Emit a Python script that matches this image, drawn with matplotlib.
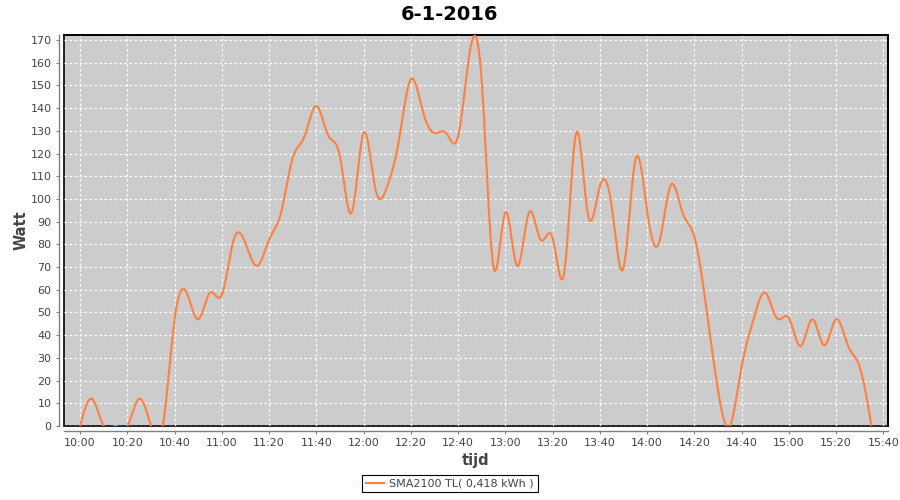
import numpy as np
import pandas as pd
import matplotlib
matplotlib.use("Agg")
import matplotlib.pyplot as plt

# ---- data ----
times = pd.date_range("2016-01-06 10:00", "2016-01-06 15:35", freq="5min")
watt = [0, 12, 0, 0, 0, 12, 0, 0,
        47, 59, 47, 58.7, 57.7, 82, 80.5, 70.5,
        82, 93.7, 118, 127.5, 141, 128, 118.6, 94,
        129, 104.5, 105.5, 126, 152.7, 139, 129, 129,
        127.5, 165, 152, 70, 94, 70.5, 94, 82,
        83, 68, 129, 93, 105.5, 97, 69.5, 117,
        95, 80.5, 106, 94, 83.4, 52.6, 16, 0,
        26, 46.7, 58.7, 47.4, 47.6, 35.2, 47, 35.5,
        47, 35.5, 26, 0]
x_ticklabels = ["10:00", "10:20", "10:40", "11:00", "11:20", "11:40", "12:00",
                "12:20", "12:40", "13:00", "13:20", "13:40", "14:00", "14:20",
                "14:40", "15:00", "15:20", "15:40"]
y_ticks = list(range(0, 171, 10))
title = "6-1-2016"
series_name = "SMA2100 TL( 0,418 kWh )"

# ---- helpers ----
t0 = times[0]
xm = np.array([(t - t0).total_seconds() / 60.0 for t in times])
yv = np.array(watt, dtype=float)


def natural_spline(x, y, xs):
    n = len(x)
    h = np.diff(x)
    A = np.zeros((n, n))
    rhs = np.zeros(n)
    A[0, 0] = 1
    A[-1, -1] = 1
    for i in range(1, n - 1):
        A[i, i - 1] = h[i - 1]
        A[i, i] = 2 * (h[i - 1] + h[i])
        A[i, i + 1] = h[i]
        rhs[i] = 6 * ((y[i + 1] - y[i]) / h[i] - (y[i] - y[i - 1]) / h[i - 1])
    M = np.linalg.solve(A, rhs)
    idx = np.clip(np.searchsorted(x, xs) - 1, 0, n - 2)
    x0 = x[idx]
    x1 = x[idx + 1]
    hh = x1 - x0
    a = (x1 - xs) / hh
    b = (xs - x0) / hh
    return a * y[idx] + b * y[idx + 1] + ((a ** 3 - a) * M[idx] + (b ** 3 - b) * M[idx + 1]) * hh ** 2 / 6


xs = np.linspace(xm[0], xm[-1], 1500)
ys = natural_spline(xm, yv, xs)

# ---- figure ----
plt.rcParams["font.family"] = ["DejaVu Sans"]
fig = plt.figure(figsize=(9, 5), dpi=100)
ax = fig.add_axes([64 / 900, 1 - 426 / 500, (888 - 64) / 900, (426 - 35) / 500])
ax.set_facecolor("#CCCCCC")
ax.patch.set_edgecolor("black")
ax.patch.set_linewidth(1.2)

line, = ax.plot(xs, ys, color="#FF8040", lw=1.5, label=series_name, zorder=3)

ax.set_xlim(-6.8, 342)
ax.set_ylim(0, 172.2)

tick_pos = [20 * i for i in range(len(x_ticklabels))]
ax.set_xticks(tick_pos)
ax.set_xticklabels(x_ticklabels)
ax.set_yticks(y_ticks)
ax.set_yticklabels([str(v) for v in y_ticks])

ax.grid(True, color="white", linestyle=(0, (2, 2)), linewidth=0.9)
ax.set_axisbelow(True)

for s in ["top", "right"]:
    ax.spines[s].set_color("black")
    ax.spines[s].set_linewidth(1.2)
for s in ["left", "bottom"]:
    ax.spines[s].set_position(("outward", 3.5))
    ax.spines[s].set_color("#808080")
    ax.spines[s].set_linewidth(1.0)

ax.tick_params(axis="both", direction="out", length=2.5, width=0.8, color="#808080",
               labelcolor="#444444", labelsize=8, pad=3)

ax.set_xlabel("tijd", fontsize=10.5, fontweight="bold", color="#444444", labelpad=3)
ax.set_ylabel("Watt", fontsize=10.5, fontweight="bold", color="#444444", labelpad=1)

fig.text(0.5, 1 - 15 / 500, title, ha="center", va="center", fontsize=14, fontweight="bold")

leg = fig.legend(handles=[line], loc="lower center", bbox_to_anchor=(0.5, 0.004),
                 frameon=True, fancybox=False, edgecolor="black", framealpha=1,
                 fontsize=8, handlelength=1.6, borderpad=0.35, handletextpad=0.5)
leg.get_frame().set_linewidth(0.8)
for t in leg.get_texts():
    t.set_color("#444444")

fig.savefig("out.png", dpi=100)
